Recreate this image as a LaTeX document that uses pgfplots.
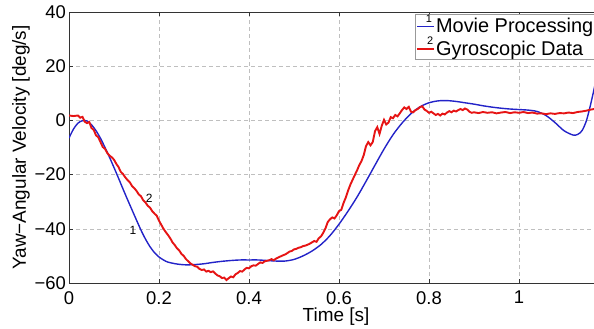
\documentclass[border=0pt]{standalone}
\usepackage{pgfplots}
\pgfplotsset{compat=1.18}
\usepackage{fontspec}
\setmainfont{Liberation Sans}
\definecolor{mblue}{RGB}{35,35,200}
\definecolor{mred}{RGB}{230,20,20}
\begin{document}
\begin{tikzpicture}
\begin{axis}[
  at={(0,0)}, anchor=south west,
  scale only axis, width=540bp, height=271bp,
  xmin=0, xmax=1.2, ymin=-60, ymax=40,
  xtick={0,0.2,0.4,0.6,0.8,1}, xticklabels={0,0.2,0.4,0.6,0.8,1},
  ytick={-60,-40,-20,0,20,40},
  yticklabels={\textminus60,\textminus40,\textminus20,0,20,40},
  tick label style={font=\fontsize{18.5}{20}\selectfont, inner sep=1bp},
  xticklabel style={yshift=-7bp},
  yticklabel style={xshift=-2bp},
  tick align=inside, major tick length=4bp,
  tick style={black!80, line width=0.5bp},
  axis line style={black!80, line width=0.7bp},
  grid=major,
  grid style={gray!50, line width=0.5bp, dash pattern=on 4bp off 3bp},
  xlabel={Time [s]},
  ylabel={Yaw\textminus Angular Velocity [deg/s]},
  every axis x label/.style={at={(axis description cs:0.5,0)}, anchor=center, yshift=-34bp, xshift=-3bp, font=\fontsize{19}{21}\selectfont},
  every axis y label/.style={at={(axis description cs:0,0.5)}, anchor=center, rotate=90, yshift=48bp, font=\fontsize{19}{21}\selectfont},
  legend style={at={(rel axis cs:0.6407,0.9926)}, anchor=north west,
    draw=gray!80, fill=white, font=\fontsize{20}{22}\selectfont,
    inner xsep=1bp, inner ysep=0.5bp, row sep=1bp,
    nodes={inner xsep=1bp, inner ysep=2bp}},
  legend cell align=left,
]
\addplot[mblue, line width=1.4bp, smooth,
  legend image code/.code={\draw[mblue, line width=1.4bp] (0bp,0bp) -- (17bp,0bp);
    \node[font=\fontsize{11}{11}\selectfont, inner sep=0pt, black] at (8bp,7bp) {1};}]
coordinates {
(0,-6.5)(0.01,-3.2)(0.02,-1.0)(0.03,-0.1)(0.04,-0.2)(0.05,-1.6)(0.06,-3.8)
(0.07,-6.6)(0.08,-10.0)(0.09,-13.6)(0.10,-17.4)(0.11,-21.3)(0.12,-25.3)
(0.13,-29.2)(0.14,-33.0)(0.15,-36.8)(0.16,-40.5)(0.17,-43.8)(0.18,-46.6)
(0.19,-48.8)(0.20,-50.4)(0.21,-51.5)(0.22,-52.3)(0.24,-53.0)(0.26,-53.3)
(0.28,-53.2)(0.30,-52.9)(0.32,-52.4)(0.34,-52.0)(0.36,-51.7)(0.38,-51.5)
(0.40,-51.5)(0.42,-51.5)(0.44,-51.7)(0.46,-51.9)(0.48,-51.9)(0.50,-51.3)
(0.52,-50.0)(0.54,-48.2)(0.56,-45.8)(0.58,-42.5)(0.60,-38.3)(0.62,-33.5)
(0.64,-28.3)(0.66,-22.5)(0.68,-16.5)(0.70,-10.6)(0.72,-5.3)(0.74,-1.0)
(0.76,2.5)(0.78,5.0)(0.80,6.5)(0.82,7.2)(0.84,7.3)(0.86,7.0)(0.88,6.5)
(0.90,6.0)(0.92,5.4)(0.94,4.9)(0.96,4.5)(0.98,4.2)(1.00,4.0)(1.02,3.8)
(1.04,3.3)(1.06,1.8)(1.08,-0.8)(1.10,-3.8)(1.12,-5.4)(1.13,-5.2)(1.14,-3.8)
(1.15,0.0)(1.16,6.5)(1.17,14)(1.18,22)
};
\addlegendentry{Movie Processing}
\addplot[mred, line width=1.9bp,
  legend image code/.code={\draw[mred, line width=1.9bp] (0bp,0bp) -- (17bp,0bp);
    \node[font=\fontsize{11}{11}\selectfont, inner sep=0pt, black] at (9bp,7bp) {2};}]
coordinates {
(0.000,1.8)(0.010,1.6)(0.020,1.8)(0.025,1.0)(0.030,1.3)(0.035,-0.5)(0.040,-1.0)
(0.045,-0.6)(0.050,-2.8)(0.055,-3.5)(0.060,-5.5)(0.065,-6.2)(0.070,-8.0)
(0.075,-9.8)(0.080,-10.5)(0.085,-12.0)(0.090,-13.0)(0.095,-13.6)(0.100,-14.5)
(0.105,-16.0)(0.110,-17.2)(0.115,-19.0)(0.120,-19.8)(0.125,-21.0)(0.130,-22.0)
(0.135,-22.8)(0.140,-24.2)(0.145,-25.0)(0.150,-26.0)(0.155,-27.3)(0.160,-28.0)
(0.165,-29.5)(0.170,-30.3)(0.175,-31.5)(0.180,-32.2)(0.185,-33.5)(0.190,-34.4)
(0.195,-35.2)(0.200,-37.0)(0.205,-38.5)(0.210,-40.0)(0.215,-41.2)(0.220,-42.3)
(0.225,-43.5)(0.230,-45.0)(0.235,-46.0)(0.240,-47.2)(0.245,-48.0)(0.250,-49.3)
(0.255,-50.0)(0.260,-51.2)(0.265,-52.0)(0.270,-52.8)(0.275,-53.3)(0.280,-53.8)
(0.285,-54.0)(0.290,-54.8)(0.295,-55.2)(0.300,-55.0)(0.305,-55.8)(0.310,-55.5)
(0.315,-56.0)(0.320,-55.7)(0.325,-56.5)(0.330,-57.2)(0.335,-57.5)(0.340,-58.2)
(0.345,-58.0)(0.350,-58.9)(0.355,-58.2)(0.360,-57.6)(0.365,-57.9)(0.370,-56.8)
(0.375,-56.3)(0.380,-55.6)(0.385,-55.8)(0.390,-55.0)(0.395,-54.4)(0.400,-54.6)
(0.405,-53.8)(0.410,-53.5)(0.415,-53.6)(0.420,-53.0)(0.425,-52.4)(0.430,-52.6)
(0.435,-52.0)(0.440,-51.8)(0.445,-51.6)(0.450,-51.2)(0.455,-51.6)(0.460,-51.0)
(0.465,-50.6)(0.470,-50.2)(0.475,-49.8)(0.480,-49.5)(0.485,-49.0)(0.490,-48.4)
(0.495,-48.2)(0.500,-47.6)(0.505,-47.4)(0.510,-47.0)(0.515,-46.8)(0.520,-46.4)
(0.525,-46.2)(0.530,-45.9)(0.535,-45.5)(0.540,-45.0)(0.545,-44.5)(0.550,-44.8)
(0.555,-43.5)(0.560,-42.8)(0.565,-41.5)(0.570,-39.8)(0.575,-37.5)(0.580,-36.5)
(0.585,-35.8)(0.590,-36.2)(0.595,-35.0)(0.600,-33.5)(0.605,-33.0)(0.610,-30.5)
(0.615,-28.5)(0.620,-26.0)(0.625,-23.8)(0.630,-22.0)(0.635,-20.2)(0.640,-18.5)
(0.645,-16.5)(0.650,-15.0)(0.655,-12.8)(0.660,-9.5)(0.665,-8.0)(0.670,-9.2)
(0.675,-8.0)(0.680,-4.0)(0.685,-2.5)(0.690,-5.0)(0.695,-2.0)(0.700,0.2)
(0.705,-1.5)(0.710,-0.8)(0.715,1.2)(0.720,0.8)(0.725,2.0)(0.730,1.5)(0.735,2.6)
(0.740,3.8)(0.745,4.8)(0.750,4.2)(0.755,5.0)(0.760,3.2)(0.765,3.0)(0.770,3.8)
(0.775,4.2)(0.780,4.9)(0.785,5.2)(0.790,4.0)(0.795,3.5)(0.800,2.8)(0.805,3.2)
(0.810,2.6)(0.815,2.0)(0.820,2.4)(0.825,1.8)(0.830,2.5)(0.835,2.2)(0.840,2.9)
(0.845,3.4)(0.850,3.0)(0.855,3.6)(0.860,3.3)(0.865,3.8)(0.870,4.2)(0.875,3.8)
(0.880,4.4)(0.885,4.0)(0.890,3.2)(0.895,2.8)(0.900,3.0)(0.910,2.7)(0.920,3.1)
(0.930,2.8)(0.940,3.0)(0.950,2.6)(0.960,2.9)(0.970,3.1)(0.980,2.7)(0.990,3.0)
(1.000,2.8)(1.010,3.1)(1.020,2.7)(1.030,2.9)(1.040,2.5)(1.050,2.6)(1.060,2.3)
(1.070,2.6)(1.080,2.4)(1.090,2.7)(1.100,2.6)(1.110,2.9)(1.120,2.7)(1.130,3.1)
(1.140,3.3)(1.150,3.6)(1.160,4.0)(1.170,4.3)
};
\addlegendentry{Gyroscopic Data}
\node[font=\fontsize{12}{12}\selectfont, inner sep=0pt] at (axis cs:0.142,-40.5) {1};
\node[font=\fontsize{12}{12}\selectfont, inner sep=0pt] at (axis cs:0.178,-28.7) {2};
\end{axis}
\pgfresetboundingbox
\useasboundingbox (-69bp,-46bp) rectangle (525bp,283bp);
\end{tikzpicture}
\end{document}
